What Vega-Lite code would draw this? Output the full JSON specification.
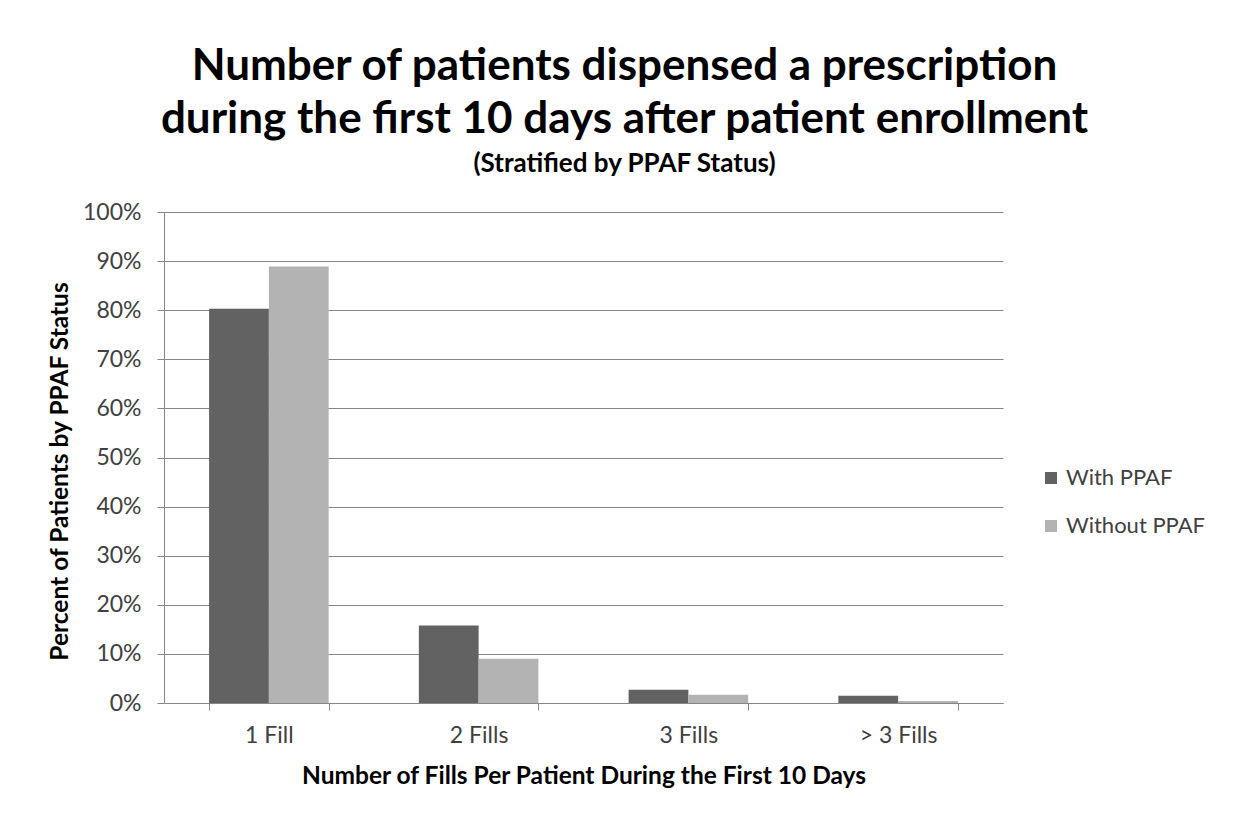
{
  "$schema": "https://vega.github.io/schema/vega-lite/v6.json",
  "autosize": "none",
  "width": 839,
  "height": 491,
  "padding": {"left": 164, "top": 212, "right": 230, "bottom": 115},
  "background": "white",
  "title": {
    "text": ["Number of patients dispensed a prescription", "during the first 10 days after patient enrollment"],
    "subtitle": "(Stratified by PPAF Status)",
    "anchor": "middle",
    "frame": "group",
    "dx": 41,
    "offset": 24,
    "font": "Lato",
    "fontSize": 44,
    "fontWeight": "bold",
    "lineHeight": 53,
    "color": "black",
    "subtitleFont": "Lato",
    "subtitleFontSize": 26,
    "subtitleFontWeight": "bold",
    "subtitleColor": "black",
    "subtitlePadding": 9
  },
  "data": {
    "values": [
      {"fills": "1 Fill", "status": "With PPAF", "pct": 0.803},
      {"fills": "1 Fill", "status": "Without PPAF", "pct": 0.889},
      {"fills": "2 Fills", "status": "With PPAF", "pct": 0.158},
      {"fills": "2 Fills", "status": "Without PPAF", "pct": 0.090},
      {"fills": "3 Fills", "status": "With PPAF", "pct": 0.027},
      {"fills": "3 Fills", "status": "Without PPAF", "pct": 0.017},
      {"fills": "> 3 Fills", "status": "With PPAF", "pct": 0.015},
      {"fills": "> 3 Fills", "status": "Without PPAF", "pct": 0.004}
    ]
  },
  "mark": {"type": "bar"},
  "encoding": {
    "x": {
      "field": "fills",
      "type": "nominal",
      "sort": ["1 Fill", "2 Fills", "3 Fills", "> 3 Fills"],
      "scale": {"paddingInner": 0.43, "paddingOuter": 0.215},
      "axis": {
        "title": "Number of Fills Per Patient During the First 10 Days",
        "labelAngle": 0,
        "tickBand": "extent",
        "labelFont": "Lato",
        "labelFontSize": 23,
        "labelColor": "#404040",
        "labelPadding": 14,
        "titleFont": "Lato",
        "titleFontSize": 24.5,
        "titleFontWeight": "bold",
        "titleColor": "black",
        "titlePadding": 17,
        "domainColor": "#868686",
        "tickColor": "#868686",
        "tickSize": 7,
        "grid": false
      }
    },
    "xOffset": {
      "field": "status",
      "type": "nominal",
      "scale": {"paddingInner": 0, "paddingOuter": 0}
    },
    "y": {
      "field": "pct",
      "type": "quantitative",
      "scale": {"domain": [0, 1], "nice": false},
      "axis": {
        "title": "Percent of Patients by PPAF Status",
        "values": [0, 0.1, 0.2, 0.3, 0.4, 0.5, 0.6, 0.7, 0.8, 0.9, 1],
        "format": ".0%",
        "labelFont": "Lato",
        "labelFontSize": 23,
        "labelColor": "#404040",
        "labelPadding": 16,
        "titleFont": "Lato",
        "titleFontSize": 24.5,
        "titleFontWeight": "bold",
        "titleColor": "black",
        "titlePadding": 10,
        "titleY": 259,
        "domainColor": "#868686",
        "tickColor": "#868686",
        "tickSize": 7,
        "gridColor": "#868686",
        "gridOpacity": 1
      }
    },
    "color": {
      "field": "status",
      "type": "nominal",
      "scale": {"domain": ["With PPAF", "Without PPAF"], "range": ["#626262", "#b3b3b3"]},
      "legend": {
        "title": null,
        "orient": "none",
        "legendX": 876,
        "legendY": 255,
        "symbolType": "square",
        "symbolSize": 144,
        "symbolStrokeWidth": 0,
        "labelFont": "Lato",
        "labelFontSize": 22,
        "labelColor": "#404040",
        "labelOffset": 4,
        "rowPadding": 26
      }
    }
  },
  "config": {
    "view": {"stroke": null}
  }
}
